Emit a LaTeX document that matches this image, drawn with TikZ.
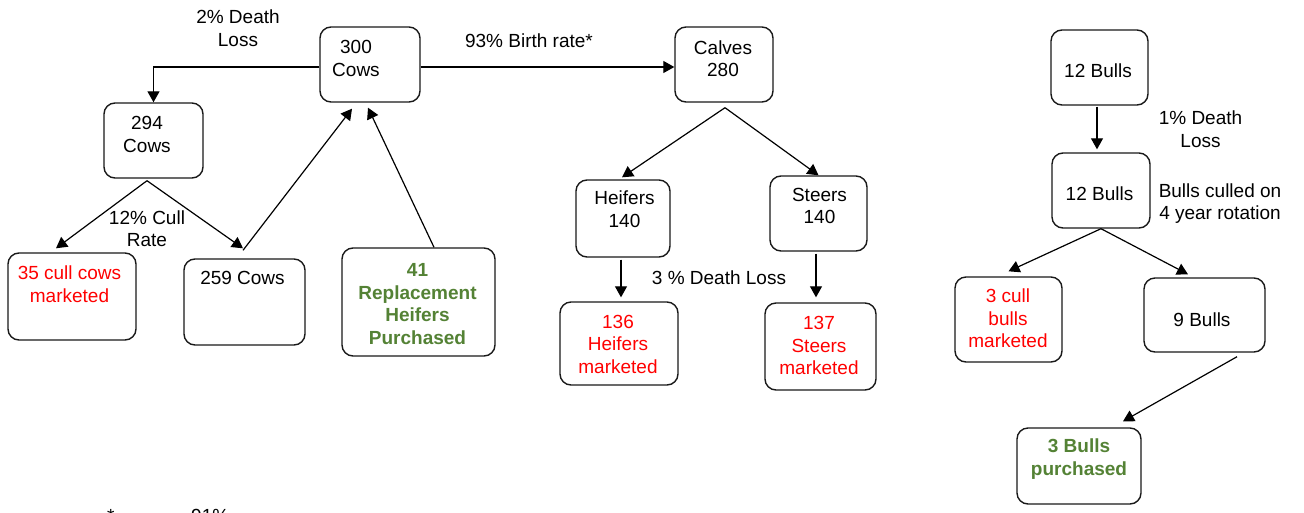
\documentclass[tikz,border=0pt]{standalone}
\usepackage{fontspec}
\setmainfont{Liberation Sans}
\usetikzlibrary{arrows.meta,calc}
\definecolor{cred}{RGB}{255,0,0}
\definecolor{cgreen}{RGB}{84,130,53}
\begin{document}
\begin{tikzpicture}[x=1pt,y=-1pt,
 box/.style={draw=black!90, line width=1.4pt, rounded corners=11pt, inner sep=0pt},
 txt/.style={align=center, font=\fontsize{19}{22.5}\selectfont, inner sep=0pt},
 redtxt/.style={txt, text=cred},
 greentxt/.style={txt, text=cgreen, font=\fontsize{19}{22.5}\selectfont\bfseries},
 arr/.style={line width=1.2pt, -{Triangle[length=11pt,width=12pt]}},
]
\useasboundingbox (0,0) rectangle (1304,512);
\clip (0,0) rectangle (1304,512);
\fill[white] (0,0) rectangle (1304,512);

% boxes
\node[box, minimum width=100pt, minimum height=75pt] (cows300) at (370,64.5) {};
\node[box, minimum width=99pt, minimum height=75pt] (cows294) at (153.5,140.5) {};
\node[box, minimum width=128pt, minimum height=87pt] (cull35) at (72,296.5) {};
\node[box, minimum width=121pt, minimum height=86pt] (cows259) at (244.5,302) {};
\node[box, minimum width=153pt, minimum height=108pt] (repl41) at (418.5,302) {};
\node[box, minimum width=98pt, minimum height=75pt] (calves) at (724,64.5) {};
\node[box, minimum width=94pt, minimum height=77pt] (heif140) at (623,218.5) {};
\node[box, minimum width=97pt, minimum height=75pt] (steer140) at (818.5,213.5) {};
\node[box, minimum width=118pt, minimum height=83pt] (heif136) at (619,343.5) {};
\node[box, minimum width=111pt, minimum height=87pt] (steer137) at (820.5,346.5) {};
\node[box, minimum width=97pt, minimum height=75pt] (bulls12a) at (1099.5,67.5) {};
\node[box, minimum width=98pt, minimum height=75pt] (bulls12b) at (1101,190.5) {};
\node[box, minimum width=107pt, minimum height=85pt] (cull3) at (1008.5,319.5) {};
\node[box, minimum width=121pt, minimum height=74pt] (bulls9) at (1204.5,315) {};
\node[box, minimum width=124pt, minimum height=76pt] (bulls3) at (1079,466) {};

% box texts
\node[txt] (cows300t) at (356,58.5) {300\\Cows};
\node[txt] (cows294t) at (147,134.5) {294\\Cows};
\node[redtxt] (cull35t) at (69.5,284) {35 cull cows\\marketed};
\node[txt] (cows259t) at (242.5,278) {259 Cows};
\node[greentxt] (repl41t) at (417.5,304) {41\\Replacement\\Heifers\\Purchased};
\node[txt] (calvest) at (723,58.5) {Calves\\280};
\node[txt] (heif140t) at (624.5,209) {Heifers\\140};
\node[txt] (steer140t) at (819.5,206) {Steers\\140};
\node[redtxt] (heif136t) at (618,344) {136\\Heifers\\marketed};
\node[redtxt] (steer137t) at (819,345.5) {137\\Steers\\marketed};
\node[txt] (bulls12at) at (1098,71) {12 Bulls};
\node[txt] (bulls12bt) at (1099.5,194) {12 Bulls};
\node[redtxt] (cull3t) at (1008,318.5) {3 cull\\bulls\\marketed};
\node[txt] (bulls9t) at (1202,320) {9 Bulls};
\node[greentxt] (bulls3t) at (1079,459) {3 Bulls\\purchased};

% labels
\node[txt] (lbl2death) at (238,28) {2\% Death\\Loss};
\node[txt] (lblbirth) at (529,41) {93\% Birth rate*};
\node[txt] (lblcull) at (147,228.5) {12\% Cull\\Rate};
\node[txt] (lbl3death) at (719,278) {3 \% Death Loss};
\node[txt] (lbl1death) at (1200.5,129) {1\% Death\\Loss};
\node[txt] (lblbulls) at (1220,203.5) {Bulls culled on\\4 year rotation};
\node[txt, anchor=base west] (fnstar) at (107,522) {*};
\node[txt, anchor=base west] (fnpct) at (191,522) {91\%};

% connectors
\draw[arr] ([yshift=-2.5pt]cows300.west) -| (cows294.north);
\draw[arr] ([yshift=-2.5pt]cows300.east) -- ([yshift=-2.5pt]calves.west);
\draw[arr] ([xshift=-6.5pt,yshift=-2pt]cows294.south) -- ([xshift=-16pt,yshift=4pt]cull35.north);
\draw[arr] ([xshift=-6.5pt,yshift=-2pt]cows294.south) -- ([xshift=-1.5pt,yshift=10pt]cows259.north);
\draw[arr] ([xshift=-1.5pt,yshift=8pt]cows259.north) -- ([xshift=-18pt,yshift=-6pt]cows300.south);
\draw[arr] ([xshift=15.5pt]repl41.north) -- ([xshift=-2pt,yshift=-5pt]cows300.south);
\draw[arr] ([xshift=1pt,yshift=-5pt]calves.south) -- ([xshift=-1pt,yshift=2pt]heif140.north);
\draw[arr] ([xshift=1pt,yshift=-5pt]calves.south) -- (steer140.north);
\draw[arr] ([xshift=-2pt,yshift=-2pt]heif140.south) -- ([xshift=2pt,yshift=4pt]heif136.north);
\draw[arr] ([xshift=-2.5pt,yshift=-2pt]steer140.south) -- ([xshift=-4.5pt,yshift=5pt]steer137.north);
\draw[arr] ([xshift=-2.5pt,yshift=-1pt]bulls12a.south) -- ([xshift=-4pt,yshift=3pt]bulls12b.north);
\draw[arr] (bulls12b.south) -- ([yshift=5pt]cull3.north);
\draw[arr] (bulls12b.south) -- ([xshift=-16.5pt,yshift=3pt]bulls9.north);
\draw[arr] ([xshift=32.5pt,yshift=-4pt]bulls9.south) -- ([xshift=44pt,yshift=6pt]bulls3.north);
\end{tikzpicture}
\end{document}
